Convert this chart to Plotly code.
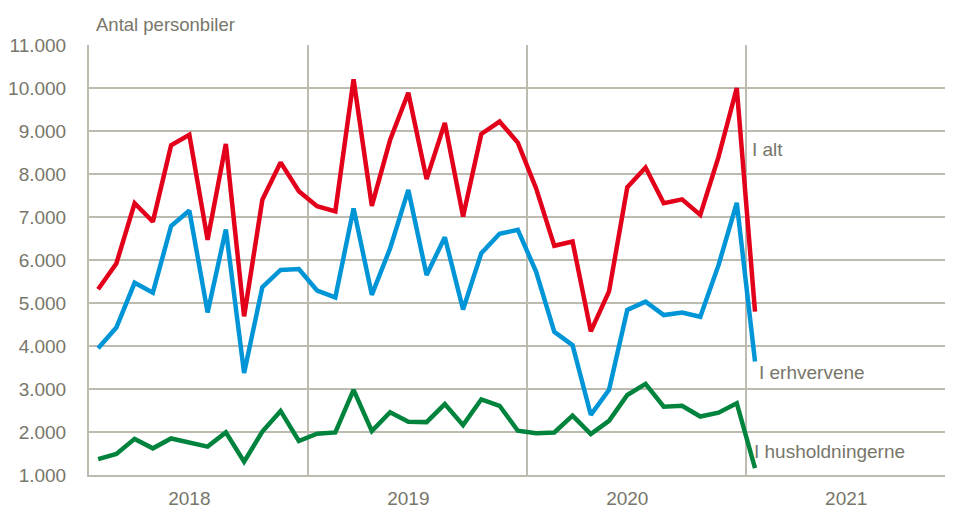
import plotly.graph_objects as go

years = ["2018", "2019", "2020", "2021"]
months = list(range(37))  # Jan 2018 .. Jan 2021

i_alt = [5320, 5920, 7320, 6890, 8670, 8910, 6470, 8700, 4690, 7400, 8270, 7600,
         7250, 7130, 10200, 7260, 8790, 9890, 7880, 9190, 7010, 8930, 9220, 8730,
         7670, 6330, 6430, 4340, 5270, 7690, 8150, 7320, 7410, 7050, 8400, 10000,
         4800]
i_erhvervene = [3950, 4430, 5470, 5240, 6790, 7150, 4780, 6710, 3370, 5370, 5770, 5790,
                5290, 5130, 7200, 5190, 6270, 7630, 5650, 6530, 4850, 6160, 6610, 6700,
                5730, 4330, 4020, 2400, 2980, 4840, 5030, 4720, 4780, 4680, 5880, 7330,
                3640]
i_husholdningerne = [1370, 1490, 1840, 1620, 1850, 1760, 1660, 1990, 1310, 2010, 2490, 1790,
                     1960, 1990, 2980, 2020, 2460, 2240, 2230, 2650, 2160, 2760, 2610, 2030,
                     1970, 1990, 2380, 1950, 2260, 2860, 3120, 2590, 2610, 2360, 2450, 2670,
                     1160]

labels = ["I alt", "I erhvervene", "I husholdningerne"]
colors = ["#e2001a", "#0095d6", "#00843d"]
series = [i_alt, i_erhvervene, i_husholdningerne]

txt = "#77766a"
grid = "#bdbbb0"
font_family = "Liberation Sans, Arial, sans-serif"

fig = go.Figure()
for name, vals, col in zip(labels, series, colors):
    fig.add_trace(go.Scatter(x=months, y=vals, mode="lines", name=name,
                             line=dict(color=col, width=4.5), showlegend=False))

ann_pos = [(35.75, 8560), (36.1, 3395), (35.85, 1535)]
annotations = []
for name, (ax, ay) in zip(labels, ann_pos):
    annotations.append(dict(x=ax, y=ay, xref="x", yref="y", text=name, showarrow=False,
                            xanchor="left", yanchor="middle",
                            font=dict(size=19, color=txt, family=font_family)))
annotations.append(dict(x=0.006, y=1.0, xref="paper", yref="paper", text="Antal personbiler",
                        showarrow=False, xanchor="left", yanchor="bottom", yshift=8,
                        font=dict(size=18.5, color=txt, family=font_family)))

fig.update_layout(
    width=945, height=503,
    margin=dict(l=78, r=0, t=37, b=36),
    paper_bgcolor="white", plot_bgcolor="white",
    separators=",.",
    font=dict(family=font_family, color=txt, size=19),
    annotations=annotations,
    xaxis=dict(range=[-0.5, 46.85], tickvals=[5, 17, 29, 41], ticktext=years,
               showgrid=False, zeroline=False, ticks="", ticklabelstandoff=5,
               showline=True, linecolor=grid, linewidth=2,
               minor=dict(tick0=-0.5, dtick=12, showgrid=True, gridcolor=grid, gridwidth=1.5),
               tickfont=dict(size=19, color=txt)),
    yaxis=dict(range=[1000, 11000], tickvals=list(range(1000, 12000, 1000)),
               tickformat=",d", showgrid=True, gridcolor=grid, gridwidth=1.5,
               zeroline=False, showline=True, linecolor=grid, linewidth=2,
               ticks="", ticklabelstandoff=17,
               tickfont=dict(size=19, color=txt)),
)

fig.write_html("out.html")
